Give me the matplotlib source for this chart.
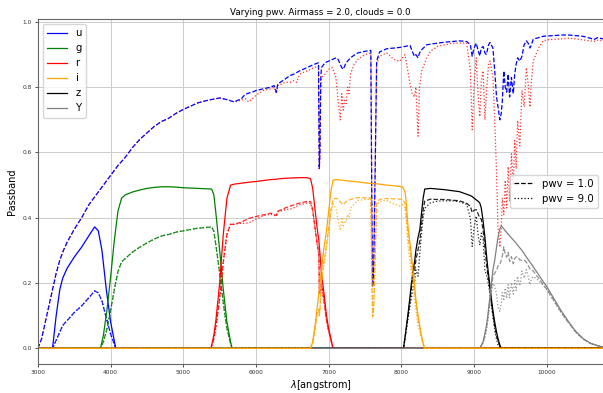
import matplotlib
matplotlib.use("Agg")
import matplotlib.pyplot as plt
from matplotlib.lines import Line2D

# ---------------------------------------------------------------
# Atmospheric transmission, airmass 2.0, for two water-vapour levels
# ---------------------------------------------------------------
atm_wl = [
    3000, 3050, 3100, 3150, 3200, 3250, 3300, 3350, 3400, 3500,
    3600, 3700, 3800, 3900, 4000, 4100, 4200, 4300, 4400, 4500,
    4600, 4700, 4800, 4900, 5000, 5100, 5200, 5300, 5400, 5500,
    5600, 5700, 5800, 5850, 5900, 5950, 6000, 6100, 6200, 6250,
    6280, 6300, 6400, 6470, 6520, 6560, 6600, 6700, 6800, 6860,
    6870, 6880, 6890, 6900, 6950, 7000, 7050, 7100, 7130, 7160,
    7180, 7200, 7220, 7240, 7260, 7280, 7300, 7350, 7400, 7500,
    7580, 7595, 7605, 7620, 7640, 7660, 7700, 7800, 7900, 7980,
    8050, 8120, 8150, 8180, 8200, 8230, 8250, 8280, 8350, 8400,
    8500, 8600, 8700, 8800, 8900, 8950, 8975, 9000, 9030, 9060,
    9080, 9100, 9125, 9150, 9170, 9200, 9220, 9260, 9285, 9310,
    9330, 9355, 9375, 9390, 9410, 9430, 9450, 9470, 9490, 9515,
    9540, 9560, 9580, 9600, 9630, 9660, 9690, 9720, 9745, 9770,
    9790, 9815, 9860, 9900, 9950, 10000, 10100, 10200, 10300, 10400,
    10500, 10600, 10650, 10700, 10775,
]
atm_pwv1 = [
    0.0, 0.03, 0.08, 0.13, 0.18, 0.23, 0.27, 0.30, 0.325, 0.365,
    0.40, 0.44, 0.47, 0.50, 0.53, 0.56, 0.585, 0.615, 0.64, 0.66,
    0.68, 0.695, 0.705, 0.72, 0.732, 0.742, 0.752, 0.758, 0.763, 0.767,
    0.762, 0.755, 0.765, 0.778, 0.782, 0.785, 0.79, 0.795, 0.80, 0.805,
    0.785, 0.81, 0.825, 0.836, 0.84, 0.845, 0.85, 0.86, 0.87, 0.875,
    0.55, 0.60, 0.82, 0.86, 0.875, 0.88, 0.885, 0.89, 0.885, 0.87,
    0.86, 0.855, 0.865, 0.875, 0.88, 0.885, 0.89, 0.898, 0.905, 0.91,
    0.913, 0.40, 0.19, 0.25, 0.55, 0.88, 0.908, 0.918, 0.92, 0.922,
    0.925, 0.928, 0.91, 0.895, 0.90, 0.89, 0.905, 0.915, 0.93, 0.932,
    0.935, 0.938, 0.94, 0.942, 0.94, 0.93, 0.895, 0.92, 0.935, 0.91,
    0.896, 0.92, 0.925, 0.905, 0.90, 0.93, 0.937, 0.92, 0.85, 0.77,
    0.74, 0.70, 0.72, 0.76, 0.85, 0.80, 0.785, 0.84, 0.77, 0.83,
    0.78, 0.84, 0.87, 0.89, 0.88, 0.895, 0.93, 0.942, 0.935, 0.92,
    0.93, 0.947, 0.95, 0.953, 0.956, 0.957, 0.958, 0.96, 0.96, 0.958,
    0.956, 0.95, 0.946, 0.952, 0.948,
]
atm_pwv9 = [
    0.0, 0.03, 0.08, 0.13, 0.18, 0.23, 0.27, 0.30, 0.325, 0.365,
    0.40, 0.44, 0.47, 0.50, 0.53, 0.56, 0.585, 0.615, 0.64, 0.66,
    0.68, 0.695, 0.705, 0.72, 0.732, 0.742, 0.752, 0.758, 0.763, 0.767,
    0.762, 0.755, 0.76, 0.765, 0.755, 0.765, 0.775, 0.79, 0.795, 0.80,
    0.78, 0.805, 0.815, 0.815, 0.82, 0.815, 0.84, 0.85, 0.86, 0.865,
    0.55, 0.58, 0.78, 0.83, 0.84, 0.855, 0.86, 0.83, 0.76, 0.70,
    0.78, 0.73, 0.76, 0.75, 0.80, 0.78, 0.84, 0.87, 0.885, 0.90,
    0.905, 0.40, 0.19, 0.25, 0.55, 0.87, 0.895, 0.905, 0.885, 0.88,
    0.90, 0.81, 0.78, 0.77, 0.80, 0.65, 0.80, 0.85, 0.89, 0.91,
    0.925, 0.93, 0.935, 0.935, 0.935, 0.85, 0.67, 0.80, 0.89, 0.76,
    0.71, 0.82, 0.85, 0.70, 0.78, 0.87, 0.88, 0.83, 0.70, 0.535,
    0.37, 0.31, 0.37, 0.46, 0.41, 0.515, 0.43, 0.556, 0.45, 0.596,
    0.50, 0.637, 0.55, 0.698, 0.62, 0.79, 0.74, 0.86, 0.81, 0.739,
    0.82, 0.88, 0.905, 0.925, 0.942, 0.945, 0.947, 0.948, 0.95, 0.948,
    0.945, 0.942, 0.94, 0.944, 0.943,
]

# ---------------------------------------------------------------
# Filter passbands: bare throughput, and throughput x atmosphere
# ---------------------------------------------------------------
u_wl = [3000, 3200, 3250, 3300, 3340, 3400, 3500, 3600, 3700, 3780,
        3830, 3880, 3940, 4000, 4070, 10775]
u_sys = [0, 0, 0.10, 0.18, 0.215, 0.245, 0.28, 0.31, 0.345, 0.372,
         0.36, 0.30, 0.18, 0.08, 0, 0]
u_pwv1 = [0, 0, 0.025, 0.05, 0.07, 0.085, 0.11, 0.13, 0.155, 0.176,
          0.17, 0.145, 0.093, 0.043, 0, 0]
u_pwv9 = [0, 0, 0.025, 0.05, 0.07, 0.085, 0.11, 0.13, 0.155, 0.176,
          0.17, 0.145, 0.093, 0.043, 0, 0]

g_wl = [3000, 3860, 3900, 3950, 4000, 4050, 4100, 4150, 4200, 4300,
        4400, 4500, 4600, 4700, 4800, 4900, 5000, 5100, 5200, 5300,
        5390, 5420, 5450, 5500, 5550, 5600, 5650, 5670, 10775]
g_sys = [0, 0, 0.04, 0.12, 0.22, 0.33, 0.42, 0.46, 0.47, 0.479,
         0.485, 0.49, 0.493, 0.495, 0.495, 0.494, 0.492, 0.491, 0.49, 0.489,
         0.488, 0.47, 0.41, 0.30, 0.18, 0.08, 0.02, 0, 0]
g_pwv1 = [0, 0, 0.02, 0.06, 0.117, 0.18, 0.235, 0.265, 0.275, 0.295,
          0.31, 0.323, 0.335, 0.344, 0.349, 0.356, 0.36, 0.364, 0.368, 0.37,
          0.372, 0.358, 0.313, 0.23, 0.138, 0.061, 0.015, 0, 0]
g_pwv9 = [0, 0, 0.02, 0.06, 0.117, 0.18, 0.235, 0.265, 0.275, 0.295,
          0.31, 0.323, 0.335, 0.344, 0.349, 0.356, 0.36, 0.364, 0.368, 0.37,
          0.372, 0.358, 0.313, 0.23, 0.138, 0.061, 0.015, 0, 0]

r_wl = [3000, 5380, 5420, 5450, 5500, 5550, 5600, 5650, 5700, 5800,
        5900, 6000, 6100, 6200, 6280, 6300, 6400, 6500, 6600, 6700,
        6750, 6780, 6810, 6840, 6865, 6872, 6880, 6900, 6940, 6970,
        7000, 7040, 7060, 10775]
r_sys = [0, 0, 0.04, 0.09, 0.20, 0.35, 0.46, 0.50, 0.503, 0.506,
         0.509, 0.511, 0.514, 0.517, 0.518, 0.519, 0.521, 0.522, 0.523, 0.523,
         0.52, 0.49, 0.43, 0.37, 0.33, 0.31, 0.29, 0.23, 0.16, 0.10,
         0.06, 0.02, 0, 0]
r_pwv1 = [0, 0, 0.03, 0.069, 0.153, 0.265, 0.35, 0.38, 0.38, 0.387,
          0.398, 0.404, 0.409, 0.414, 0.407, 0.42, 0.43, 0.438, 0.445, 0.45,
          0.45, 0.425, 0.373, 0.323, 0.29, 0.17, 0.175, 0.198, 0.14, 0.088,
          0.053, 0.018, 0, 0]
r_pwv9 = [0, 0, 0.03, 0.069, 0.153, 0.265, 0.35, 0.38, 0.38, 0.383,
          0.384, 0.396, 0.406, 0.411, 0.405, 0.418, 0.425, 0.428, 0.44, 0.445,
          0.445, 0.42, 0.37, 0.32, 0.285, 0.17, 0.168, 0.19, 0.135, 0.085,
          0.051, 0.017, 0, 0]

i_wl = [3000, 6750, 6780, 6810, 6840, 6865, 6872, 6880, 6900, 6930,
        6970, 7000, 7030, 7060, 7100, 7130, 7160, 7180, 7200, 7220,
        7240, 7260, 7280, 7300, 7400, 7500, 7580, 7595, 7605, 7620,
        7640, 7660, 7700, 7800, 7900, 7980, 8020, 8050, 8070, 8093,
        8120, 8150, 8180, 8200, 8230, 8250, 8270, 8300, 8322, 10775]
i_sys = [0, 0, 0.02, 0.065, 0.12, 0.17, 0.18, 0.20, 0.24, 0.30,
         0.36, 0.42, 0.48, 0.515, 0.517, 0.516, 0.516, 0.515, 0.515, 0.514,
         0.514, 0.513, 0.513, 0.512, 0.51, 0.507, 0.505, 0.505, 0.505, 0.504,
         0.504, 0.504, 0.503, 0.50, 0.498, 0.496, 0.494, 0.48, 0.44, 0.37,
         0.32, 0.26, 0.20, 0.15, 0.10, 0.072, 0.045, 0.015, 0, 0]
i_pwv1 = [0, 0, 0.017, 0.057, 0.105, 0.12, 0.10, 0.12, 0.206, 0.261,
          0.316, 0.37, 0.424, 0.456, 0.46, 0.457, 0.449, 0.443, 0.44, 0.445,
          0.45, 0.451, 0.454, 0.456, 0.462, 0.461, 0.461, 0.202, 0.096, 0.126,
          0.277, 0.444, 0.457, 0.459, 0.458, 0.457, 0.456, 0.444, 0.407, 0.343,
          0.297, 0.237, 0.179, 0.135, 0.089, 0.065, 0.041, 0.014, 0, 0]
i_pwv9 = [0, 0, 0.017, 0.056, 0.103, 0.118, 0.10, 0.116, 0.199, 0.25,
          0.303, 0.359, 0.41, 0.443, 0.429, 0.392, 0.361, 0.402, 0.376, 0.391,
          0.386, 0.41, 0.40, 0.43, 0.453, 0.456, 0.457, 0.202, 0.096, 0.126,
          0.277, 0.438, 0.45, 0.453, 0.442, 0.436, 0.44, 0.432, 0.38, 0.31,
          0.26, 0.203, 0.154, 0.12, 0.065, 0.058, 0.037, 0.013, 0, 0]

z_wl = [3000, 8030, 8060, 8093, 8120, 8139, 8160, 8185, 8200, 8230,
        8254, 8280, 8300, 8322, 8400, 8500, 8600, 8700, 8800, 8900,
        8950, 8975, 9000, 9030, 9060, 9080, 9100, 9125, 9150, 9170,
        9190, 9220, 9240, 9260, 9285, 9310, 9330, 9355, 9375, 10775]
z_sys = [0, 0, 0.05, 0.108, 0.16, 0.20, 0.235, 0.27, 0.30, 0.34,
         0.363, 0.42, 0.46, 0.488, 0.49, 0.488, 0.486, 0.483, 0.48, 0.472,
         0.468, 0.465, 0.46, 0.455, 0.45, 0.445, 0.43, 0.39, 0.34, 0.29,
         0.245, 0.19, 0.15, 0.115, 0.08, 0.05, 0.03, 0.01, 0, 0]
z_pwv1 = [0, 0, 0.046, 0.10, 0.148, 0.184, 0.212, 0.242, 0.27, 0.303,
          0.329, 0.384, 0.423, 0.451, 0.457, 0.456, 0.456, 0.454, 0.452, 0.444,
          0.435, 0.416, 0.423, 0.425, 0.41, 0.399, 0.396, 0.361, 0.308, 0.261,
          0.225, 0.178, 0.14, 0.106, 0.068, 0.039, 0.022, 0.007, 0, 0]
z_pwv9 = [0, 0, 0.045, 0.092, 0.13, 0.156, 0.183, 0.208, 0.24, 0.221,
          0.29, 0.357, 0.40, 0.429, 0.446, 0.451, 0.452, 0.452, 0.449, 0.441,
          0.398, 0.312, 0.368, 0.405, 0.342, 0.316, 0.353, 0.332, 0.238, 0.226,
          0.208, 0.167, 0.129, 0.095, 0.056, 0.027, 0.011, 0.003, 0, 0]

y_wl = [3000, 9080, 9125, 9150, 9170, 9190, 9220, 9240, 9260, 9285,
        9310, 9330, 9355, 9375, 9390, 9410, 9430, 9450, 9470, 9490,
        9515, 9540, 9560, 9580, 9600, 9630, 9660, 9690, 9720, 9745,
        9770, 9790, 9815, 9860, 9900, 9950, 10000, 10100, 10200, 10300,
        10400, 10500, 10600, 10700, 10775]
y_sys = [0, 0, 0.02, 0.045, 0.068, 0.10, 0.16, 0.20, 0.24, 0.27,
         0.31, 0.34, 0.365, 0.375, 0.372, 0.366, 0.36, 0.355, 0.35, 0.345,
         0.338, 0.332, 0.327, 0.322, 0.316, 0.308, 0.30, 0.29, 0.28, 0.272,
         0.264, 0.258, 0.25, 0.235, 0.222, 0.205, 0.19, 0.152, 0.115, 0.082,
         0.052, 0.03, 0.016, 0.008, 0.004]
y_pwv1 = [0, 0, 0.019, 0.041, 0.061, 0.092, 0.15, 0.186, 0.221, 0.23,
          0.239, 0.252, 0.256, 0.27, 0.283, 0.311, 0.288, 0.279, 0.294, 0.266,
          0.281, 0.259, 0.275, 0.28, 0.281, 0.271, 0.269, 0.27, 0.264, 0.254,
          0.243, 0.24, 0.237, 0.223, 0.212, 0.196, 0.182, 0.146, 0.11, 0.079,
          0.05, 0.029, 0.015, 0.008, 0.004]
y_pwv9 = [0, 0, 0.017, 0.032, 0.053, 0.085, 0.141, 0.172, 0.199, 0.189,
          0.166, 0.126, 0.113, 0.139, 0.171, 0.15, 0.185, 0.153, 0.195, 0.155,
          0.201, 0.166, 0.208, 0.177, 0.221, 0.191, 0.237, 0.215, 0.241, 0.22,
          0.195, 0.212, 0.22, 0.213, 0.205, 0.193, 0.18, 0.144, 0.109, 0.078,
          0.049, 0.028, 0.015, 0.008, 0.004]

band_names = ["u", "g", "r", "i", "z", "Y"]
band_colors = ["blue", "green", "red", "orange", "black", "grey"]
pwv_labels = ["pwv = 1.0", "pwv = 9.0"]

bands = {
    "u": (u_wl, u_sys, u_pwv1, u_pwv9),
    "g": (g_wl, g_sys, g_pwv1, g_pwv9),
    "r": (r_wl, r_sys, r_pwv1, r_pwv9),
    "i": (i_wl, i_sys, i_pwv1, i_pwv9),
    "z": (z_wl, z_sys, z_pwv1, z_pwv9),
    "Y": (y_wl, y_sys, y_pwv1, y_pwv9),
}

# ---------------------------------------------------------------
fig = plt.figure(figsize=(6.03, 3.93), dpi=100)
ax = fig.add_axes([38 / 603, 29 / 393, 1 - 38 / 603, 345 / 393])

lw = 0.9
ax.plot(atm_wl, atm_pwv9, color="red", ls=":", lw=lw, alpha=0.8)
ax.plot(atm_wl, atm_pwv1, color="blue", ls="--", lw=lw)

handles = {}
draw_order = ["u", "g", "r", "z", "Y", "i"]
for name in draw_order:
    color = band_colors[band_names.index(name)]
    wl, sys_t, t1, t9 = bands[name]
    (h,) = ax.plot(wl, sys_t, color=color, ls="-", lw=lw)
    ax.plot(wl, t1, color=color, ls="--", lw=lw, alpha=0.85)
    ax.plot(wl, t9, color=color, ls=":", lw=lw, alpha=0.85)
    handles[name] = h

ax.set_xlim(3000, 10775)
ax.set_ylim(-0.048, 1.009)
ax.set_xticks(range(3000, 10001, 1000))
ax.set_yticks([0.0, 0.2, 0.4, 0.6, 0.8, 1.0])
ax.grid(True, color="#cccccc", lw=0.7)
ax.set_axisbelow(True)
ax.tick_params(labelsize=4.2, length=2.5, width=0.6, colors="#333333", pad=2)
for side in ("left", "bottom", "top"):
    ax.spines[side].set_color("#666666")
    ax.spines[side].set_linewidth(0.8)
ax.spines["right"].set_visible(False)

ax.set_title("Varying pwv. Airmass = 2.0, clouds = 0.0", fontsize=6.3, pad=3)
ax.set_xlabel(r"$\lambda$[angstrom]", fontsize=7.0, labelpad=2)
ax.set_ylabel("Passband", fontsize=7.0, labelpad=4)

leg1 = ax.legend([handles[n] for n in band_names], band_names,
                 loc="upper left", fontsize=7.3)
ax.add_artist(leg1)
style_handles = [Line2D([], [], color="black", ls="--", lw=lw),
                 Line2D([], [], color="black", ls=":", lw=lw)]
ax.legend(style_handles, pwv_labels, loc="center right", fontsize=7.3)

fig.savefig("out.png", dpi=100)
